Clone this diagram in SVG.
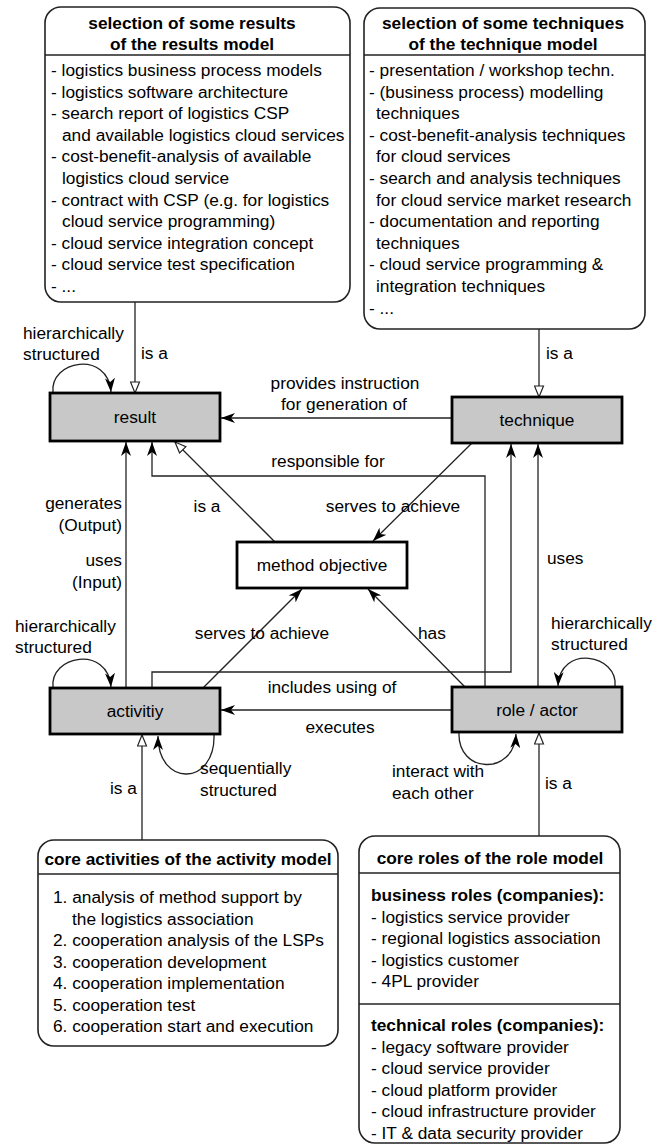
<svg xmlns="http://www.w3.org/2000/svg" width="663" height="1146" viewBox="0 0 663 1146">
<style>
text{font-family:"Liberation Sans",Arial,sans-serif;font-size:17.3px;fill:#000}
.b{font-weight:bold}
.m{text-anchor:middle}
.e{text-anchor:end}
.rb{fill:#fff;stroke:#222;stroke-width:1.6}
.dv{stroke:#222;stroke-width:1.4}
.gb{fill:#c8c8c8;stroke:#000;stroke-width:2.8}
.wb{fill:#fff;stroke:#000;stroke-width:2.8}
.c{fill:none;stroke:#222;stroke-width:1.3}
.a{marker-end:url(#ah)}
.t{marker-end:url(#tri)}
</style>
<defs>
<marker id="ah" markerUnits="userSpaceOnUse" viewBox="0 0 14 10" refX="14" refY="5" markerWidth="14" markerHeight="10" orient="auto">
<path d="M0,0 L14,5 L0,10 L4,5 z" fill="#000"/>
</marker>
<marker id="tri" markerUnits="userSpaceOnUse" viewBox="-1 -1 13 11" refX="11" refY="4.5" markerWidth="13" markerHeight="11" orient="auto">
<path d="M0,0 L11,4.5 L0,9 z" fill="#fff" stroke="#222" stroke-width="1.2"/>
</marker>
</defs>

<g id="connectors">
<path class="c t" d="M135 302 V393"/>
<path class="c t" d="M539 329 V397"/>
<path class="c a" d="M452 418 H221"/>
<path class="c a" d="M53 393 C49 360 108 350 111 392"/>
<path class="c a" d="M485 687 V476 H152 V442"/>
<path class="c a" d="M126 688 V442"/>
<path class="c t" d="M275 542 L175 442"/>
<path class="c a" d="M472 443 L373 541"/>
<path class="c a" d="M152 688 V672 H511 V444"/>
<path class="c a" d="M538 687 V444"/>
<path class="c a" d="M203 688 L302 589"/>
<path class="c a" d="M465 687 L368 589"/>
<path class="c a" d="M452 710 H221"/>
<path class="c a" d="M53 688 C49 655 108 645 111 687"/>
<path class="c a" d="M615 687 C619 654 560 644 558 686"/>
<path class="c a" d="M214 734 C216 786 158 788 158 736"/>
<path class="c a" d="M459 732 C457 774 514 776 516 734"/>
<path class="c t" d="M142 840 V735"/>
<path class="c t" d="M539 836 V733"/>
</g>

<g id="labels">
<text x="23" y="339">hierarchically</text>
<text x="23" y="360">structured</text>
<text x="141" y="359">is a</text>
<text x="546" y="359">is a</text>
<text class="m" x="345" y="389">provides instruction</text>
<text class="m" x="344" y="410">for generation of</text>
<text class="m" x="328" y="467">responsible for</text>
<text class="e" x="122" y="509">generates</text>
<text class="e" x="122" y="531">(Output)</text>
<text class="e" x="122" y="566">uses</text>
<text class="e" x="122" y="588">(Input)</text>
<text class="m" x="207" y="512">is a</text>
<text class="m" x="393" y="512">serves to achieve</text>
<text x="547" y="564">uses</text>
<text x="15" y="632">hierarchically</text>
<text x="15" y="653">structured</text>
<text class="m" x="262" y="639">serves to achieve</text>
<text x="418" y="639">has</text>
<text x="551" y="629">hierarchically</text>
<text x="551" y="650">structured</text>
<text class="m" x="332" y="693">includes using of</text>
<text class="m" x="340" y="733">executes</text>
<text x="200" y="774">sequentially</text>
<text x="200" y="796">structured</text>
<text x="392" y="777">interact with</text>
<text x="392" y="799">each other</text>
<text x="110" y="794">is a</text>
<text x="545" y="789">is a</text>
</g>

<g id="results-model">
<rect class="rb" x="45" y="7" width="305" height="295" rx="16"/>
<line class="dv" x1="45" y1="55" x2="350" y2="55"/>
<text class="b m" x="192" y="29">selection of some results</text>
<text class="b m" x="192" y="50">of the results model</text>
<text x="51" y="76">- logistics business process models</text>
<text x="51" y="97.6">- logistics software architecture</text>
<text x="51" y="119.2">- search report of logistics CSP</text>
<text x="62" y="140.8">and available logistics cloud services</text>
<text x="51" y="162.4">- cost-benefit-analysis of available</text>
<text x="62" y="184">logistics cloud service</text>
<text x="51" y="205.6">- contract with CSP (e.g. for logistics</text>
<text x="62" y="227.2">cloud service programming)</text>
<text x="51" y="248.8">- cloud service integration concept</text>
<text x="51" y="270.4">- cloud service test specification</text>
<text x="51" y="292">- ...</text>
</g>

<g id="technique-model">
<rect class="rb" x="364" y="8" width="281" height="321" rx="16"/>
<line class="dv" x1="364" y1="55" x2="645" y2="55"/>
<text class="b m" x="503" y="29">selection of some techniques</text>
<text class="b m" x="503" y="50">of the technique model</text>
<text x="369" y="76">- presentation / workshop techn.</text>
<text x="369" y="97.6">- (business process) modelling</text>
<text x="376" y="119.2">techniques</text>
<text x="369" y="140.8">- cost-benefit-analysis techniques</text>
<text x="376" y="162.4">for cloud services</text>
<text x="369" y="184">- search and analysis techniques</text>
<text x="376" y="205.6">for cloud service market research</text>
<text x="369" y="227.2">- documentation and reporting</text>
<text x="376" y="248.8">techniques</text>
<text x="369" y="270.4">- cloud service programming &amp;</text>
<text x="376" y="292">integration techniques</text>
<text x="369" y="313.6">- ...</text>
</g>

<g id="result">
<rect class="gb" x="50" y="393" width="170" height="48"/>
<text class="m" x="135" y="423">result</text>
</g>

<g id="technique">
<rect class="gb" x="452" y="397" width="170" height="46"/>
<text class="m" x="537" y="426">technique</text>
</g>

<g id="method-objective">
<rect class="wb" x="237" y="542" width="170" height="46"/>
<text class="m" x="322" y="571">method objective</text>
</g>

<g id="activity">
<rect class="gb" x="50" y="688" width="170" height="46"/>
<text class="m" x="135" y="717">activitiy</text>
</g>

<g id="role-actor">
<rect class="gb" x="452" y="687" width="170" height="45"/>
<text class="m" x="537" y="716">role / actor</text>
</g>

<g id="activity-model">
<rect class="rb" x="38" y="840" width="300" height="206" rx="16"/>
<line class="dv" x1="38" y1="874" x2="338" y2="874"/>
<text class="b m" x="188" y="865">core activities of the activity model</text>
<text x="53" y="903">1. analysis of method support by</text>
<text x="72" y="924.5">the logistics association</text>
<text x="53" y="946">2. cooperation analysis of the LSPs</text>
<text x="53" y="967.5">3. cooperation development</text>
<text x="53" y="989">4. cooperation implementation</text>
<text x="53" y="1010.5">5. cooperation test</text>
<text x="53" y="1032">6. cooperation start and execution</text>
</g>

<g id="role-model">
<rect class="rb" x="359" y="836" width="261" height="307" rx="16"/>
<line class="dv" x1="359" y1="873" x2="620" y2="873"/>
<line class="dv" x1="359" y1="1004" x2="620" y2="1004"/>
<text class="b m" x="490" y="864">core roles of the role model</text>
<text class="b" x="371" y="901">business roles (companies):</text>
<text x="371" y="922.5">- logistics service provider</text>
<text x="371" y="944">- regional logistics association</text>
<text x="371" y="965.5">- logistics customer</text>
<text x="371" y="987">- 4PL provider</text>
<text class="b" x="371" y="1031">technical roles (companies):</text>
<text x="371" y="1052.5">- legacy software provider</text>
<text x="371" y="1074">- cloud service provider</text>
<text x="371" y="1095.5">- cloud platform provider</text>
<text x="371" y="1117">- cloud infrastructure provider</text>
<text x="371" y="1138.5">- IT &amp; data security provider</text>
</g>
</svg>
